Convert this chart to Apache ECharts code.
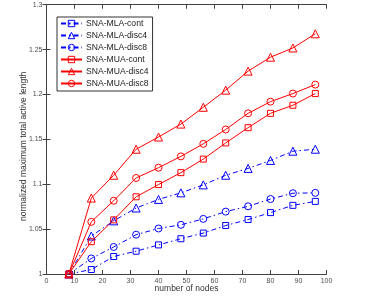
<!DOCTYPE html>
<html><head><meta charset="utf-8">
<script src="https://cdn.jsdelivr.net/npm/echarts@6/dist/echarts.min.js"></script>
<style>html,body{margin:0;padding:0;background:#fff}#c{width:381px;height:298px}</style>
</head><body><div id="c"></div>
<script>
const nodes = [8,16,24,32,40,48,56,64,72,80,88,96];
const mlaCont  = [1.0,1.005,1.0195,1.0254,1.0324,1.0393,1.0456,1.054,1.0607,1.0684,1.0765,1.0809];
const mlaDisc4 = [1.0,1.0423,1.0592,1.0735,1.0831,1.0904,1.0993,1.110,1.1176,1.1265,1.1368,1.139];
const mlaDisc8 = [1.0,1.0173,1.0301,1.0438,1.0507,1.0548,1.0614,1.0695,1.0754,1.0835,1.090,1.0904];
const muaCont  = [1.0,1.036,1.0603,1.086,1.0996,1.1129,1.128,1.146,1.163,1.179,1.188,1.201];
const muaDisc4 = [1.0,1.0846,1.110,1.139,1.1526,1.167,1.1857,1.2048,1.226,1.2415,1.2518,1.2676];
const muaDisc8 = [1.0,1.0581,1.0816,1.107,1.1184,1.131,1.145,1.161,1.179,1.192,1.201,1.211];
const names = ['SNA-MLA-cont','SNA-MLA-disc4','SNA-MLA-disc8','SNA-MUA-cont','SNA-MUA-disc4','SNA-MUA-disc8'];

const BLUE='#0000ff', RED='#ff0000';
const dashDot=[5,3,1.5,3];
function mk(name, vals, color, symbol, size, dashed){
  return {name, type:'line', data: nodes.map((x,i)=>[x,vals[i]]),
    symbol, symbolSize:size, showAllSymbol:true,
    lineStyle:{color, width:1, type: dashed?dashDot:'solid'},
    itemStyle:{color:'rgba(255,255,255,0)', borderColor:color, borderWidth:1},
    emphasis:{disabled:true}, animation:false, z:3};
}
const series=[
  mk(names[0], mlaCont, BLUE,'rect',6,true),
  mk(names[1], mlaDisc4, BLUE,'triangle',8,true),
  mk(names[2], mlaDisc8, BLUE,'circle',7,true),
  mk(names[3], muaCont, RED,'rect',6,false),
  mk(names[4], muaDisc4, RED,'triangle',8,false),
  mk(names[5], muaDisc8, RED,'circle',7,false)
];
const axisColor='#404040';
const lblStyle={color:'#4d4d4d', fontSize:7, fontFamily:'Liberation Sans'};
const nameStyle={fontSize:8.5,color:'#333',fontFamily:'Liberation Sans'};
const chart=echarts.init(document.getElementById('c'),null,{renderer:'canvas'});
chart.setOption({
  animation:false,
  grid:{left:46.5,right:54.5,top:4.7,bottom:21.3},
  legend:{orient:'vertical', left:57, top:17, data:names,
    itemWidth:21, itemHeight:8, itemGap:3, padding:[2,4,3,3],
    borderColor:'#333', borderWidth:1, backgroundColor:'#fff',
    itemStyle:{color:'rgba(255,255,255,0)', borderWidth:1},
    textStyle:{fontSize:8.6, color:'#222', fontFamily:'Liberation Sans', padding:[0,0,0,-1]}},
  xAxis:[{type:'value', min:0, max:100, interval:10, position:'bottom',
    name:'number of nodes', nameLocation:'middle', nameGap:10, nameMoveOverlap:false,
    nameTextStyle:nameStyle,
    axisLine:{lineStyle:{color:axisColor,width:1}},
    axisTick:{inside:true,length:4,lineStyle:{color:axisColor}},
    axisLabel:Object.assign({margin:4},lblStyle), splitLine:{show:false}},
   {type:'value', min:0, max:100, interval:10, position:'top',
    axisLine:{lineStyle:{color:axisColor,width:1}},
    axisTick:{inside:true,length:4,lineStyle:{color:axisColor}},
    axisLabel:{show:false}, splitLine:{show:false}}],
  yAxis:[{type:'value', min:1, max:1.3, interval:0.05, position:'left',
    name:'normalized maximum total active length', nameLocation:'middle', nameGap:18, nameMoveOverlap:false,
    nameTextStyle:Object.assign({padding:[0,14,0,0]},nameStyle),
    axisLine:{lineStyle:{color:axisColor,width:1}},
    axisTick:{inside:true,length:4,lineStyle:{color:axisColor}},
    axisLabel:Object.assign({margin:4, formatter:v=>String(+v.toFixed(2))},lblStyle), splitLine:{show:false}},
   {type:'value', min:1, max:1.3, interval:0.05, position:'right',
    axisLine:{lineStyle:{color:axisColor,width:1}},
    axisTick:{inside:true,length:4,lineStyle:{color:axisColor}},
    axisLabel:{show:false}, splitLine:{show:false}}],
  series
});
</script></body></html>
